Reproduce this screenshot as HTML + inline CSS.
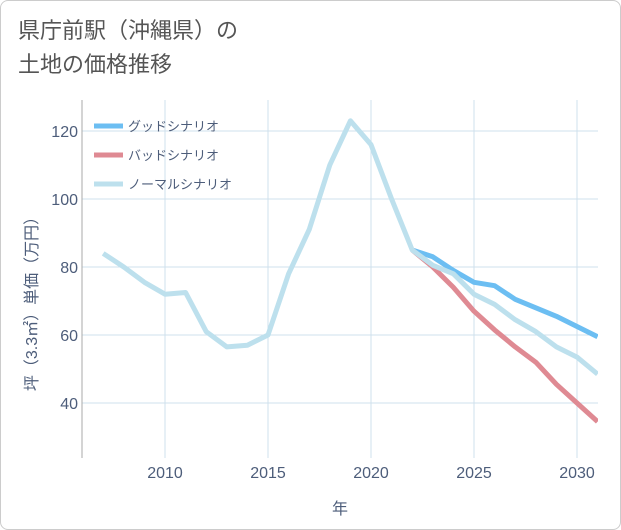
<!DOCTYPE html>
<html><head><meta charset="utf-8"><style>
body{margin:0;background:#fff;}
#wrap{position:relative;width:621px;height:530px;font-family:"Liberation Sans","Noto Sans CJK JP",sans-serif;}
#frame{position:absolute;left:0;top:0;width:619px;height:528px;border:1px solid #ccc;border-radius:8px;}
#title{position:absolute;left:18px;top:14px;font-size:22px;line-height:34px;color:#555;}
svg text{font-family:"Liberation Sans","Noto Sans CJK JP",sans-serif;}
</style></head><body>
<div id="wrap">
<div id="frame"></div>
<div id="title">県庁前駅（沖縄県）の<br>土地の価格推移</div>
<svg id="chart" width="621" height="530" style="position:absolute;left:0;top:0"></svg>
</div>
<script>
const years=[2007,2008,2009,2010,2011,2012,2013,2014,2015,2016,2017,2018,2019,2020,2021,2022,2023,2024,2025,2026,2027,2028,2029,2030,2031];
const normalValues=[84,80,75.5,72,72.5,61,56.5,57,60,78,91,110,123,116,100,85,80.5,78,72,69,64.5,61,56.5,53.5,48.5];
const futureYears=[2022,2023,2024,2025,2026,2027,2028,2029,2030,2031];
const goodValues=[85,83,79,75.5,74.5,70.5,68,65.5,62.5,59.5];
const badValues=[85,80,74,67,61.5,56.5,52,45.5,40,34.5];
const xTicks=[2010,2015,2020,2025,2030];
const yTicks=[40,60,80,100,120];
const legendLabels=["グッドシナリオ","バッドシナリオ","ノーマルシナリオ"];
const NS="http://www.w3.org/2000/svg";
const svg=document.getElementById('chart');
const L=82,R=598,T=100,B=458;
function xs(v){return 165+(v-2010)*20.6;}
function ys(v){return 267-(v-80)*3.4;}
function mk(tag,attrs){const e=document.createElementNS(NS,tag);for(const k in attrs)e.setAttribute(k,attrs[k]);svg.appendChild(e);return e;}
for(const t of xTicks){const l=mk('line',{x1:xs(t),x2:xs(t),y1:T,y2:B,stroke:'#cfe0ec','stroke-width':1});


const tx=mk('text',{x:xs(t),y:478,'text-anchor':'middle','font-size':16,fill:'#4d5d7a'});tx.textContent=t;

}
for(const t of yTicks){const l=mk('line',{x1:L,x2:R,y1:ys(t),y2:ys(t),stroke:'#cfe0ec','stroke-width':1});


const tx=mk('text',{x:78,y:ys(t)+6,'text-anchor':'end','font-size':16,fill:'#4d5d7a'});tx.textContent=t;

}
const ax=mk('line',{x1:L,x2:L,y1:T,y2:B,stroke:'#aaa','stroke-width':1});


const xt=mk('text',{x:340,y:514,'text-anchor':'middle','font-size':16,fill:'#4d5d7a'});xt.textContent='年';


const yt=mk('text',{x:0,y:0,'text-anchor':'middle','font-size':16,fill:'#4d5d7a',transform:'translate(37,300) rotate(-90)'});yt.textContent='坪（3.3㎡）単価（万円）';


function line(xv,yv,color,name){const d=xv.map((x,i)=>(i?'L':'M')+xs(x)+','+ys(yv[i])).join(' ');
const p=mk('path',{d:d,fill:'none',stroke:color,'stroke-width':5,'stroke-linejoin':'round'});

}
const cp=mk('clipPath',{id:'c'});const cr=document.createElementNS(NS,'rect');cr.setAttribute('x',L);cr.setAttribute('y',T);cr.setAttribute('width',R-L);cr.setAttribute('height',B-T);cp.appendChild(cr);
line(futureYears,goodValues,'#6cbef2','good-scenario-line');
line(futureYears,badValues,'#df8a93','bad-scenario-line');
line(years,normalValues,'#bde0ed','normal-scenario-line');
svg.querySelectorAll('path').forEach(p=>p.setAttribute('clip-path','url(#c)'));
const colors=['#6cbef2','#df8a93','#bde0ed'];
legendLabels.forEach((lab,i)=>{const y=126+i*29;
const s=mk('line',{x1:94,x2:123,y1:y,y2:y,stroke:colors[i],'stroke-width':5});


const t=mk('text',{x:128,y:y+5,'font-size':13,fill:'#4d5d7a'});t.textContent=lab;

});
</script>
</body></html>
